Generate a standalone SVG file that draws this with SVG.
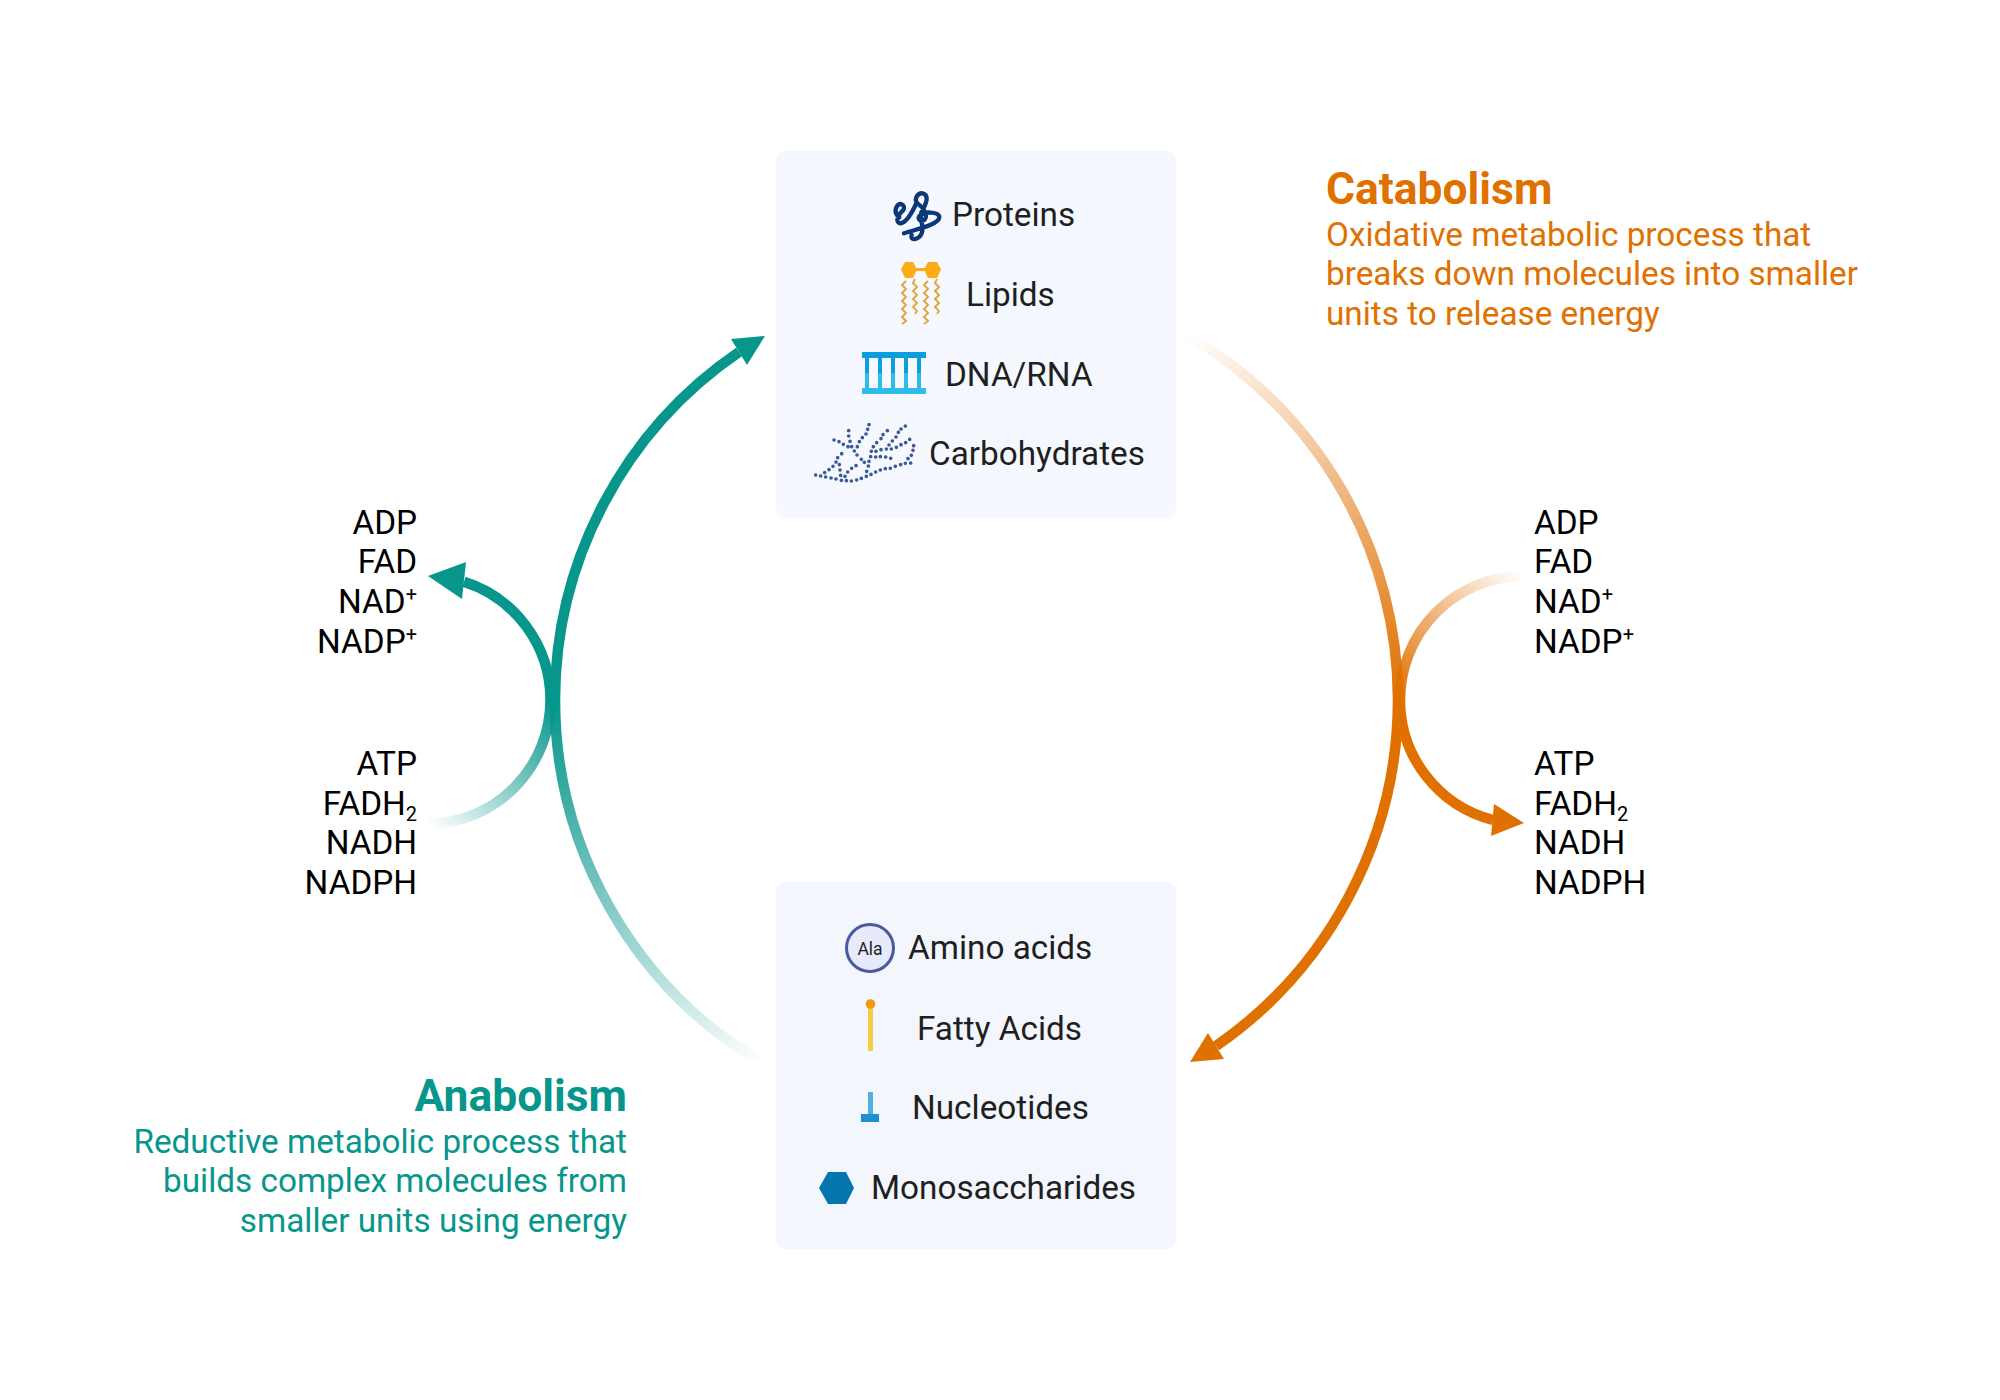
<svg xmlns="http://www.w3.org/2000/svg" width="2000" height="1400" viewBox="0 0 2000 1400">
<style>
text{font-family:Roboto,"Liberation Sans",sans-serif}
.l{font-size:33.3px;fill:#1f1f1f}
.m{font-size:33.3px;fill:#000}
.e{text-anchor:end}
.t{font-size:44.4px;font-weight:700}
.d{font-size:33.3px}
.o{fill:#e07000}.g{fill:#07968c}
.a{fill:none;stroke-width:10.500}
.w{fill:none;stroke:#e2a53f;stroke-width:1.900}
</style>
<defs>
<linearGradient id="go" gradientUnits="userSpaceOnUse" x1="1188" y1="336" x2="1398" y2="700"><stop offset="0" stop-color="#e07000" stop-opacity="0"/><stop offset="1" stop-color="#e07000"/></linearGradient>
<linearGradient id="gg" gradientUnits="userSpaceOnUse" x1="761" y1="1062" x2="555" y2="700"><stop offset="0" stop-color="#07968c" stop-opacity="0"/><stop offset="1" stop-color="#07968c"/></linearGradient>
<linearGradient id="go2" gradientUnits="userSpaceOnUse" x1="1522" y1="576" x2="1400" y2="700"><stop offset="0" stop-color="#e07000" stop-opacity="0"/><stop offset="1" stop-color="#e07000"/></linearGradient>
<linearGradient id="gg2" gradientUnits="userSpaceOnUse" x1="428" y1="824" x2="550" y2="700"><stop offset="0" stop-color="#07968c" stop-opacity="0"/><stop offset="1" stop-color="#07968c"/></linearGradient>
</defs>
<rect width="2000" height="1400" fill="#fff"/>
<g id="connectors">
<path class="a" d="M1188.500 336A421.500 421.500 0 0 1 1398 700" stroke="url(#go)"/>
<path class="a" d="M1398 700A421.500 421.500 0 0 1 1216 1046" stroke="#e07000"/>
<polygon class="o" points="1190,1062 1208,1033 1224,1059"/>
<path class="a" d="M761.500 1062.500A421.500 421.500 0 0 1 555 700" stroke="url(#gg)"/>
<path class="a" d="M555 700A421.500 421.500 0 0 1 739 352" stroke="#07968c"/>
<polygon class="g" points="765,336 731,339 747,365"/>
<path class="a" d="M1524 576A124 124 0 0 0 1400 700" stroke="url(#go2)"/>
<path class="a" d="M1400 700A124 124 0 0 0 1493 820" stroke="#e07000"/>
<polygon class="o" points="1524,823 1494,804 1491,836"/>
<path class="a" d="M426.500 824A124 124 0 0 0 550.500 700" stroke="url(#gg2)"/>
<path class="a" d="M550.500 700A124 124 0 0 0 464 581.800" stroke="#07968c"/>
<polygon class="g" points="428,576 466,562 462,599"/>
</g>
<g id="box-macromolecules">
<rect x="776" y="151" width="400" height="367" rx="10" fill="#f5f8ff"/>
<g id="proteins">
<g transform="translate(880 180) scale(.3333)" fill="none" stroke="#0c3878" stroke-width="13" stroke-linecap="round">
<path d="M72 160C100 150 178 135 178 112C178 95 130 92 118 108C108 125 140 130 138 105C135 85 118 75 112 70C100 55 115 38 128 40C148 45 140 70 125 95C115 120 135 135 125 160C115 182 88 182 95 165"/>
<path d="M108 72C95 100 78 130 60 130C42 125 58 100 70 90C78 75 60 65 50 80C42 95 50 108 58 112"/>
</g>
<text class="l" x="952" y="226">Proteins</text></g>
<g id="lipids">
<polygon points="901,269.500 905,262 913,262 917,269.500 913,278 905,278" fill="#feab18"/>
<polygon points="924,269.500 928,262 937,262 941,269.500 937,278 928,278" fill="#feab18"/>
<rect x="916" y="268" width="9" height="3" fill="#feab18"/>
<path class="w" d="M906 281l-4 4 4 4-4 4 4 4-4 4 4 4-4 4 4 4-4 4 4 4-4 3"/>
<path class="w" d="M915 279l-2 4 4 4-4 4 4 4-4 4 4 4-4 4 4 4-2 3"/>
<path class="w" d="M928 281l-4 4 4 4-4 4 4 4-4 4 4 4-4 4 4 4-4 4 4 4-4 3"/>
<path class="w" d="M937 279l-2 4 4 4-4 4 4 4-4 4 4 4-4 4 4 4-2 3"/>
<text class="l" x="966" y="306">Lipids</text></g>
<g id="dna-rna">
<rect x="862" y="352" width="64" height="6" fill="#0b9edc"/>
<rect x="862" y="388" width="64" height="6" fill="#30bce8"/>
<path d="M867 358v15M880 358v15M893 358v15M906 358v15M919 358v15" stroke="#0b9edc" stroke-width="4" fill="none"/>
<path d="M867 373v15M880 373v15M893 373v15M906 373v15M919 373v15" stroke="#30bce8" stroke-width="4" fill="none"/>
<text class="l" x="945" y="386">DNA/RNA</text></g>
<g id="carbohydrates">
<path transform="translate(800 340) scale(.3333)" fill="none" stroke="#3a5a94" stroke-width="11" stroke-linecap="round" d="M47 405h.1M62 408h.1M77 411h.1M93 414h.1M108 417h.1M124 421h.1M139 422h.1M154 423h.1M170 420h.1M184 415h.1M199 409h.1M213 403h.1M227 396h.1M241 390h.1M256 386h.1M271 385h.1M286 379h.1M302 374h.1M316 370h.1M332 369h.1M324 356h.1M334 346h.1M339 331h.1M341 317h.1M329 298h.1M317 308h.1M303 314h.1M289 322h.1M274 327h.1M259 327h.1M243 329h.1M228 334h.1M214 334h.1M212 350h.1M227 351h.1M241 350h.1M257 351h.1M272 355h.1M207 364h.1M205 378h.1M200 394h.1M193 367h.1M184 358h.1M171 345h.1M163 333h.1M155 320h.1M150 304h.1M146 288h.1M146 272h.1M102 300h.1M117 305h.1M130 313h.1M144 320h.1M172 320h.1M178 305h.1M187 293h.1M198 282h.1M203 268h.1M207 254h.1M262 272h.1M249 284h.1M243 296h.1M230 308h.1M220 320h.1M316 258h.1M303 267h.1M295 277h.1M288 291h.1M277 303h.1M267 315h.1M125 341h.1M113 353h.1M108 366h.1M99 379h.1M87 389h.1M74 398h.1M118 374h.1M120 390h.1M122 406h.1M135 409h.1M143 396h.1M155 385h.1M168 377h.1"/>
<text class="l" x="929" y="465">Carbohydrates</text></g>
</g>
<g id="box-monomers">
<rect x="776" y="882" width="400" height="367" rx="10" fill="#f3f6fc"/>
<g id="amino"><circle cx="870" cy="948" r="23.500" fill="#e6eafb" stroke="#4a5a9c" stroke-width="3"/><text x="870" y="955" font-size="17.500" text-anchor="middle" fill="#1f1f1f">Ala</text>
<text class="l" x="908" y="959">Amino acids</text></g>
<g id="fatty"><rect x="868" y="1006" width="5" height="45" fill="#f6cb45"/><circle cx="870.500" cy="1004" r="4.800" fill="#f09a0a"/>
<text class="l" x="917" y="1040">Fatty Acids</text></g>
<g id="nucleotides"><rect x="868" y="1092" width="5" height="22" fill="#4fb3dd"/><rect x="861" y="1114" width="18" height="8" fill="#1f8fd4"/>
<text class="l" x="912" y="1119">Nucleotides</text></g>
<g id="mono"><polygon points="819,1188 828,1172 846,1172 854,1188 846,1204 828,1204" fill="#0575ad"/>
<text class="l" x="871" y="1199">Monosaccharides</text></g>
</g>
<g id="catabolism">
<text class="t o" x="1326" y="204">Catabolism</text>
<text class="d o" x="1326" y="246">Oxidative metabolic process that</text>
<text class="d o" x="1326" y="285">breaks down molecules into smaller</text>
<text class="d o" x="1326" y="325">units to release energy</text>
</g>
<g id="anabolism">
<text class="t g e" x="627" y="1111">Anabolism</text>
<text class="d g e" x="627" y="1153">Reductive metabolic process that</text>
<text class="d g e" x="627" y="1192">builds complex molecules from</text>
<text class="d g e" x="627" y="1232">smaller units using energy</text>
</g>
<g id="left-cofactors">
<text class="m e" x="417" y="534">ADP</text><text class="m e" x="417" y="573">FAD</text><text class="m e" x="417" y="613">NAD<tspan font-size="20" dy="-12">+</tspan></text><text class="m e" x="417" y="653">NADP<tspan font-size="20" dy="-12">+</tspan></text>
<text class="m e" x="417" y="775">ATP</text><text class="m e" x="417" y="815">FADH<tspan font-size="20" dy="6">2</tspan></text><text class="m e" x="417" y="854">NADH</text><text class="m e" x="417" y="894">NADPH</text>
</g>
<g id="right-cofactors">
<text class="m" x="1534" y="534">ADP</text><text class="m" x="1534" y="573">FAD</text><text class="m" x="1534" y="613">NAD<tspan font-size="20" dy="-12">+</tspan></text><text class="m" x="1534" y="653">NADP<tspan font-size="20" dy="-12">+</tspan></text>
<text class="m" x="1534" y="775">ATP</text><text class="m" x="1534" y="815">FADH<tspan font-size="20" dy="6">2</tspan></text><text class="m" x="1534" y="854">NADH</text><text class="m" x="1534" y="894">NADPH</text>
</g>
</svg>
